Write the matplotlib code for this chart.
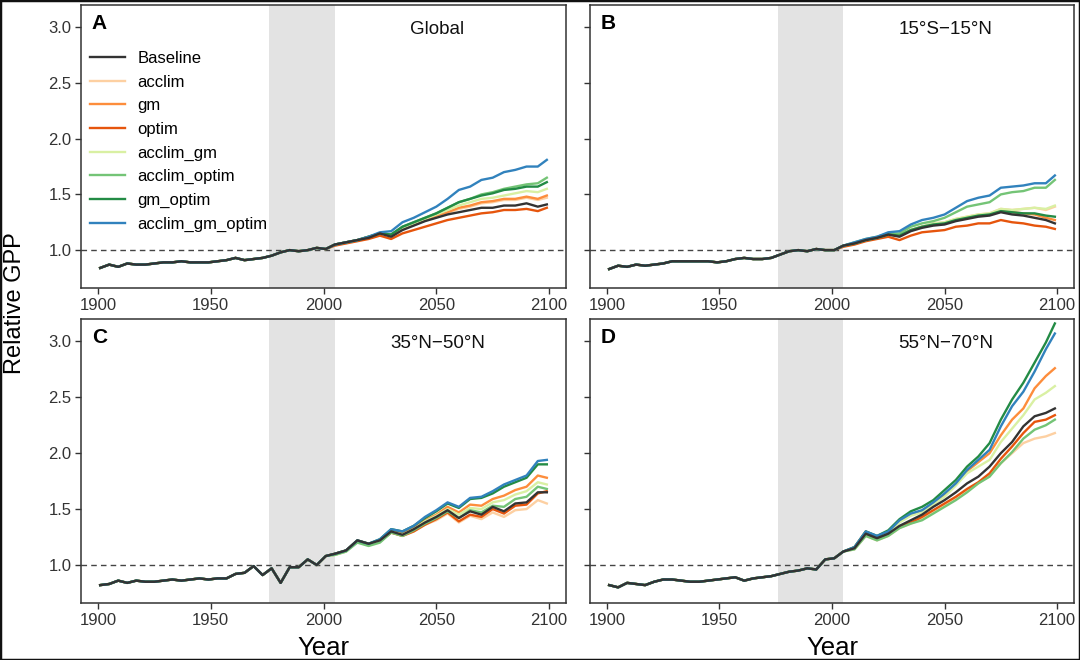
import matplotlib
matplotlib.use("Agg")
import matplotlib.pyplot as plt
from matplotlib.patches import Rectangle
import numpy as np

plt.rcParams["font.family"] = ["Liberation Sans", "DejaVu Sans"]

# ---- data ----
series_names = ["Baseline", "acclim", "gm", "optim", "acclim_gm",
                "acclim_optim", "gm_optim", "acclim_gm_optim"]
series_colors = ["#333333", "#FDD0A2", "#FD8D3C", "#E6550D", "#D9F0A3",
                 "#74C476", "#238B45", "#3182BD"]

panel_letters = ["A", "B", "C", "D"]
panel_titles = ["Global", "15°S\u221215°N", "35°N\u221250°N", "55°N\u221270°N"]

# shared history (all runs nearly identical), 1901-2005 every 4 years
hist_years = [1901, 1905, 1909, 1913, 1917, 1921, 1925, 1929, 1933, 1937,
              1941, 1945, 1949, 1953, 1957, 1961, 1965, 1969, 1973, 1977,
              1981, 1985, 1989, 1993, 1997, 2001, 2005]
hist_global = [0.84, 0.87, 0.85, 0.88, 0.87, 0.87, 0.88, 0.89, 0.89, 0.90,
               0.89, 0.89, 0.89, 0.90, 0.91, 0.93, 0.91, 0.92, 0.93, 0.95,
               0.98, 1.00, 0.99, 1.00, 1.02, 1.01, 1.05]
hist_tropics = [0.83, 0.86, 0.85, 0.87, 0.86, 0.87, 0.88, 0.90, 0.90, 0.90,
                0.90, 0.90, 0.89, 0.90, 0.92, 0.93, 0.92, 0.92, 0.93, 0.96,
                0.99, 1.00, 0.99, 1.01, 1.00, 1.00, 1.04]
hist_midlat = [0.82, 0.83, 0.86, 0.84, 0.86, 0.85, 0.85, 0.86, 0.87, 0.86,
               0.87, 0.88, 0.87, 0.88, 0.88, 0.92, 0.93, 0.99, 0.91, 0.97,
               0.84, 0.98, 0.98, 1.05, 1.00, 1.08, 1.10]
hist_boreal = [0.82, 0.80, 0.84, 0.83, 0.82, 0.85, 0.87, 0.87, 0.86, 0.85,
               0.85, 0.86, 0.87, 0.88, 0.89, 0.86, 0.88, 0.89, 0.90, 0.92,
               0.94, 0.95, 0.97, 0.96, 1.05, 1.06, 1.12]

# projections, 2005-2099 every 5 years, order as series_names
fut_years = [2005, 2010, 2015, 2020, 2025, 2030, 2035, 2040, 2045, 2050,
             2055, 2060, 2065, 2070, 2075, 2080, 2085, 2090, 2095, 2099]

fut_global = [
    [1.05, 1.07, 1.09, 1.11, 1.15, 1.12, 1.18, 1.22, 1.26, 1.29, 1.32, 1.34, 1.36, 1.38, 1.38, 1.40, 1.40, 1.42, 1.39, 1.41],
    [1.05, 1.07, 1.09, 1.12, 1.15, 1.14, 1.20, 1.23, 1.27, 1.30, 1.33, 1.37, 1.39, 1.42, 1.43, 1.45, 1.45, 1.47, 1.45, 1.47],
    [1.05, 1.07, 1.09, 1.12, 1.15, 1.14, 1.20, 1.24, 1.27, 1.31, 1.34, 1.38, 1.40, 1.43, 1.44, 1.46, 1.46, 1.48, 1.46, 1.49],
    [1.04, 1.06, 1.08, 1.10, 1.13, 1.10, 1.15, 1.18, 1.21, 1.24, 1.27, 1.29, 1.31, 1.33, 1.34, 1.36, 1.36, 1.37, 1.35, 1.38],
    [1.05, 1.07, 1.09, 1.12, 1.15, 1.14, 1.20, 1.24, 1.28, 1.32, 1.36, 1.40, 1.43, 1.46, 1.47, 1.49, 1.51, 1.53, 1.52, 1.55],
    [1.05, 1.07, 1.09, 1.12, 1.15, 1.14, 1.21, 1.25, 1.29, 1.33, 1.38, 1.43, 1.46, 1.50, 1.52, 1.55, 1.57, 1.59, 1.60, 1.65],
    [1.05, 1.07, 1.09, 1.12, 1.15, 1.14, 1.21, 1.25, 1.29, 1.33, 1.38, 1.43, 1.46, 1.49, 1.51, 1.54, 1.55, 1.57, 1.57, 1.61],
    [1.05, 1.07, 1.09, 1.12, 1.16, 1.17, 1.25, 1.29, 1.34, 1.39, 1.46, 1.54, 1.57, 1.63, 1.65, 1.70, 1.72, 1.75, 1.75, 1.81],
]
fut_tropics = [
    [1.04, 1.06, 1.09, 1.11, 1.14, 1.12, 1.17, 1.20, 1.22, 1.23, 1.26, 1.28, 1.30, 1.31, 1.34, 1.32, 1.31, 1.29, 1.27, 1.24],
    [1.04, 1.06, 1.09, 1.11, 1.14, 1.13, 1.18, 1.21, 1.24, 1.25, 1.28, 1.30, 1.32, 1.33, 1.37, 1.36, 1.37, 1.38, 1.36, 1.39],
    [1.04, 1.06, 1.09, 1.11, 1.14, 1.13, 1.18, 1.21, 1.23, 1.24, 1.27, 1.29, 1.31, 1.32, 1.35, 1.34, 1.33, 1.32, 1.29, 1.27],
    [1.03, 1.05, 1.08, 1.10, 1.12, 1.09, 1.13, 1.16, 1.17, 1.18, 1.21, 1.22, 1.24, 1.24, 1.27, 1.25, 1.24, 1.22, 1.21, 1.19],
    [1.04, 1.06, 1.09, 1.11, 1.14, 1.13, 1.18, 1.21, 1.24, 1.25, 1.28, 1.30, 1.32, 1.33, 1.37, 1.36, 1.37, 1.38, 1.37, 1.40],
    [1.04, 1.07, 1.10, 1.12, 1.15, 1.15, 1.21, 1.24, 1.26, 1.29, 1.34, 1.39, 1.41, 1.43, 1.50, 1.52, 1.53, 1.56, 1.56, 1.63],
    [1.04, 1.06, 1.09, 1.11, 1.14, 1.13, 1.18, 1.21, 1.23, 1.24, 1.27, 1.29, 1.31, 1.32, 1.35, 1.34, 1.33, 1.33, 1.31, 1.30],
    [1.04, 1.07, 1.10, 1.12, 1.16, 1.17, 1.23, 1.27, 1.29, 1.32, 1.38, 1.44, 1.47, 1.49, 1.56, 1.57, 1.58, 1.60, 1.60, 1.67],
]
fut_midlat = [
    [1.10, 1.13, 1.22, 1.19, 1.22, 1.30, 1.27, 1.32, 1.38, 1.43, 1.49, 1.42, 1.48, 1.45, 1.52, 1.48, 1.55, 1.56, 1.65, 1.65],
    [1.09, 1.12, 1.21, 1.18, 1.21, 1.29, 1.26, 1.30, 1.36, 1.40, 1.46, 1.38, 1.44, 1.41, 1.47, 1.43, 1.49, 1.50, 1.58, 1.55],
    [1.10, 1.13, 1.22, 1.19, 1.22, 1.31, 1.28, 1.33, 1.40, 1.45, 1.52, 1.47, 1.54, 1.53, 1.59, 1.62, 1.67, 1.70, 1.80, 1.78],
    [1.10, 1.13, 1.21, 1.18, 1.21, 1.29, 1.26, 1.30, 1.36, 1.41, 1.47, 1.39, 1.45, 1.43, 1.50, 1.46, 1.53, 1.54, 1.64, 1.66],
    [1.09, 1.12, 1.21, 1.18, 1.21, 1.30, 1.27, 1.32, 1.39, 1.44, 1.50, 1.45, 1.51, 1.50, 1.56, 1.58, 1.63, 1.66, 1.74, 1.72],
    [1.09, 1.12, 1.20, 1.17, 1.20, 1.29, 1.26, 1.31, 1.37, 1.42, 1.48, 1.42, 1.49, 1.47, 1.53, 1.52, 1.59, 1.61, 1.70, 1.68],
    [1.10, 1.13, 1.22, 1.19, 1.23, 1.32, 1.30, 1.35, 1.42, 1.48, 1.55, 1.51, 1.59, 1.60, 1.64, 1.70, 1.74, 1.78, 1.90, 1.90],
    [1.10, 1.13, 1.22, 1.19, 1.23, 1.32, 1.30, 1.35, 1.43, 1.49, 1.56, 1.52, 1.60, 1.61, 1.66, 1.72, 1.76, 1.80, 1.93, 1.94],
]
fut_boreal = [
    [1.12, 1.15, 1.28, 1.24, 1.28, 1.35, 1.40, 1.45, 1.52, 1.58, 1.65, 1.73, 1.79, 1.88, 2.00, 2.10, 2.24, 2.33, 2.36, 2.40],
    [1.12, 1.14, 1.26, 1.22, 1.26, 1.33, 1.37, 1.41, 1.47, 1.53, 1.59, 1.66, 1.73, 1.80, 1.91, 2.00, 2.09, 2.13, 2.15, 2.18],
    [1.12, 1.16, 1.30, 1.25, 1.30, 1.39, 1.45, 1.48, 1.55, 1.62, 1.72, 1.84, 1.92, 2.00, 2.16, 2.30, 2.40, 2.58, 2.69, 2.76],
    [1.12, 1.15, 1.27, 1.23, 1.27, 1.34, 1.38, 1.43, 1.49, 1.55, 1.61, 1.68, 1.74, 1.82, 1.95, 2.06, 2.18, 2.28, 2.30, 2.34],
    [1.12, 1.15, 1.29, 1.25, 1.29, 1.38, 1.44, 1.47, 1.54, 1.61, 1.71, 1.82, 1.88, 1.94, 2.10, 2.22, 2.34, 2.48, 2.54, 2.60],
    [1.12, 1.14, 1.26, 1.22, 1.26, 1.33, 1.37, 1.40, 1.46, 1.52, 1.58, 1.65, 1.73, 1.79, 1.91, 2.01, 2.13, 2.21, 2.25, 2.30],
    [1.12, 1.16, 1.30, 1.26, 1.31, 1.41, 1.48, 1.52, 1.58, 1.67, 1.76, 1.88, 1.97, 2.09, 2.30, 2.48, 2.63, 2.81, 2.99, 3.16],
    [1.12, 1.16, 1.30, 1.26, 1.30, 1.40, 1.46, 1.49, 1.56, 1.64, 1.73, 1.85, 1.94, 2.03, 2.24, 2.42, 2.55, 2.73, 2.93, 3.07],
]

hist_all = [hist_global, hist_tropics, hist_midlat, hist_boreal]
fut_all = [fut_global, fut_tropics, fut_midlat, fut_boreal]

ref_period = (1976, 2005)

# ---- figure ----
W, H = 1080, 660
fig = plt.figure(figsize=(W / 100, H / 100), dpi=100)

# axes boxes in pixels: left, top, right, bottom
boxes = [(81, 5, 566, 288), (590, 5, 1074, 288),
         (81, 319, 566, 603), (590, 319, 1074, 603)]

for i, (l, t, r, b) in enumerate(boxes):
    ax = fig.add_axes([l / W, 1 - b / H, (r - l) / W, (b - t) / H])

    ax.axvspan(*ref_period, color="#E3E3E3", lw=0, zorder=0)
    ax.axhline(1.0, color="#444444", lw=1.0, ls=(0, (4, 3)), zorder=1)

    years = np.array(hist_years[:-1] + fut_years)
    lines = []
    for k, name in enumerate(series_names):
        y = np.array(hist_all[i][:-1] + fut_all[i][k])
        z = 3 if k == 0 else 2 + k * 0.01   # baseline drawn on top
        ln, = ax.plot(years, y, color=series_colors[k], lw=1.7, zorder=z,
                      solid_joinstyle="round", label=name)
        lines.append(ln)

    ax.set_xlim(1892.5, 2107.5)
    ax.set_ylim(0.66, 3.2)
    ax.set_xticks([1900, 1950, 2000, 2050, 2100])
    ax.set_yticks([1.0, 1.5, 2.0, 2.5, 3.0])
    ax.tick_params(colors="#333333", labelcolor="#333333", labelsize=12,
                   length=4, width=1, pad=3)
    if i % 2 == 1:
        ax.set_yticklabels([])
    for s in ax.spines.values():
        s.set_color("#333333")
        s.set_linewidth(1.1)

    ax.text(0.022, 0.936, panel_letters[i], transform=ax.transAxes,
            fontsize=15, fontweight="bold", ha="left", va="center")
    ax.text(0.735, 0.915, panel_titles[i], transform=ax.transAxes,
            fontsize=13.5, ha="center", va="center", color="#111111")

    if i >= 2:
        ax.set_xlabel("Year", fontsize=18.5, labelpad=6)

    if i == 0:
        ax.legend(handles=lines, loc="upper left",
                  bbox_to_anchor=(0.019, 0.838), frameon=False,
                  fontsize=12, handlelength=2.1, handletextpad=0.75,
                  labelspacing=0.52, borderpad=0, borderaxespad=0)

fig.text(15 / W, 1 - 303 / H, "Relative GPP", rotation=90, fontsize=17,
         ha="center", va="center")

# thin dark frame around the whole image
fig.patches.append(Rectangle((0, 0), 1, 1, transform=fig.transFigure,
                             fill=False, edgecolor="#111111", lw=2.5))

fig.savefig("out.png", dpi=100)
